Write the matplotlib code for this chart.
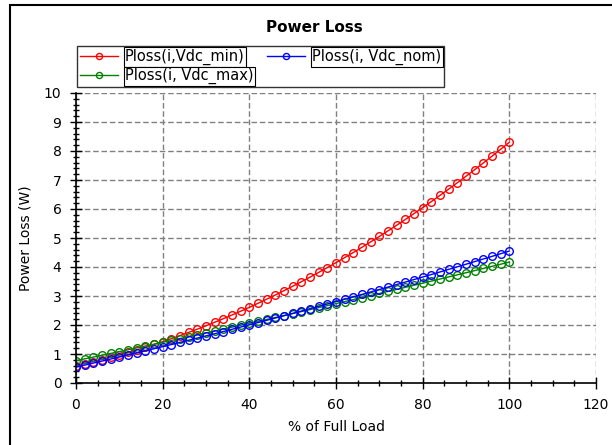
import matplotlib
matplotlib.use("Agg")
import matplotlib.pyplot as plt
from matplotlib.patches import Rectangle
from matplotlib.ticker import MultipleLocator

# % of full load, 0..100 in steps of 2
load = list(range(0, 101, 2))

ploss_vdc_min = [
    0.600, 0.667, 0.737, 0.810, 0.888, 0.969, 1.053, 1.141, 1.233, 1.328,
    1.426, 1.529, 1.635, 1.744, 1.857, 1.973, 2.094, 2.217, 2.344, 2.475,
    2.610, 2.748, 2.889, 3.034, 3.183, 3.335, 3.491, 3.650, 3.813, 3.980,
    4.150, 4.323, 4.500, 4.681, 4.866, 5.053, 5.245, 5.440, 5.639, 5.841,
    6.046, 6.256, 6.469, 6.685, 6.905, 7.129, 7.356, 7.587, 7.821, 8.059,
    8.300,
]
ploss_vdc_nom = [
    0.550, 0.618, 0.687, 0.756, 0.826, 0.896, 0.967, 1.038, 1.109, 1.181,
    1.254, 1.327, 1.401, 1.475, 1.549, 1.624, 1.699, 1.775, 1.852, 1.929,
    2.006, 2.084, 2.162, 2.241, 2.320, 2.400, 2.480, 2.561, 2.642, 2.724,
    2.806, 2.889, 2.972, 3.055, 3.139, 3.224, 3.309, 3.395, 3.481, 3.567,
    3.654, 3.741, 3.829, 3.918, 4.007, 4.096, 4.186, 4.276, 4.367, 4.458,
    4.550,
]
ploss_vdc_max = [
    0.770, 0.832, 0.894, 0.957, 1.020, 1.083, 1.146, 1.210, 1.274, 1.338,
    1.402, 1.467, 1.531, 1.596, 1.662, 1.727, 1.793, 1.859, 1.925, 1.991,
    2.058, 2.125, 2.192, 2.259, 2.327, 2.395, 2.463, 2.531, 2.600, 2.669,
    2.738, 2.807, 2.877, 2.947, 3.017, 3.087, 3.158, 3.228, 3.299, 3.371,
    3.442, 3.514, 3.586, 3.658, 3.730, 3.803, 3.876, 3.949, 4.022, 4.096,
    4.170,
]

plt.rcParams["font.family"] = ["DejaVu Sans"]

fig = plt.figure(figsize=(6.12, 4.45), dpi=100)
ax = fig.add_axes([76 / 612, 1 - 383 / 445, 520 / 612, 290 / 445])

style = dict(marker="o", markersize=5.5, markerfacecolor="none",
             markeredgewidth=1.0, linewidth=1.0)
ax.plot(load, ploss_vdc_min, color="#ff0000", label="Ploss(i,Vdc_min)", **style)
ax.plot(load, ploss_vdc_max, color="#008000", label="Ploss(i, Vdc_max)", **style)
ax.plot(load, ploss_vdc_nom, color="#0000ff", label="Ploss(i, Vdc_nom)", **style)

ax.set_xlim(0, 120)
ax.set_ylim(0, 10)
ax.xaxis.set_major_locator(MultipleLocator(20))
ax.xaxis.set_minor_locator(MultipleLocator(5))
ax.yaxis.set_major_locator(MultipleLocator(1))
ax.yaxis.set_minor_locator(MultipleLocator(0.2))
ax.tick_params(which="major", direction="inout", length=9, width=1,
               labelsize=10, pad=6)
ax.tick_params(which="minor", direction="inout", length=5, width=1)
ax.grid(True, which="major", color="#808080", linestyle=(0, (4, 2)), linewidth=1)
for s in ("top", "right"):
    ax.spines[s].set_visible(False)
for s in ("left", "bottom"):
    ax.spines[s].set_linewidth(1.2)

ax.set_xlabel("% of Full Load", fontsize=10, labelpad=6)
ax.set_ylabel("Power Loss (W)", fontsize=10, labelpad=8)

fig.text(314 / 612, 1 - 28 / 445, "Power Loss", ha="center", va="center",
         fontsize=11, fontweight="bold")

leg = fig.legend(loc="upper left", bbox_to_anchor=(77 / 612, 1 - 46 / 445),
                 ncol=2, fontsize=10.5, frameon=True, fancybox=False,
                 borderpad=0.2, handlelength=2.6, handletextpad=0.5,
                 columnspacing=0.9, labelspacing=0.2, markerscale=0.8,
                 borderaxespad=0)
leg.get_frame().set_edgecolor("black")
leg.get_frame().set_linewidth(1.0)
for t in leg.get_texts():
    t.set_bbox(dict(facecolor="white", edgecolor="black", pad=1.0, linewidth=0.8))

# outer frame
fig.patches.append(Rectangle((10 / 612, -0.1), 1.2, 1.1 - 5.5 / 445,
                             transform=fig.transFigure, fill=False,
                             edgecolor="black", linewidth=1.5))

fig.savefig("out.png", dpi=100)
